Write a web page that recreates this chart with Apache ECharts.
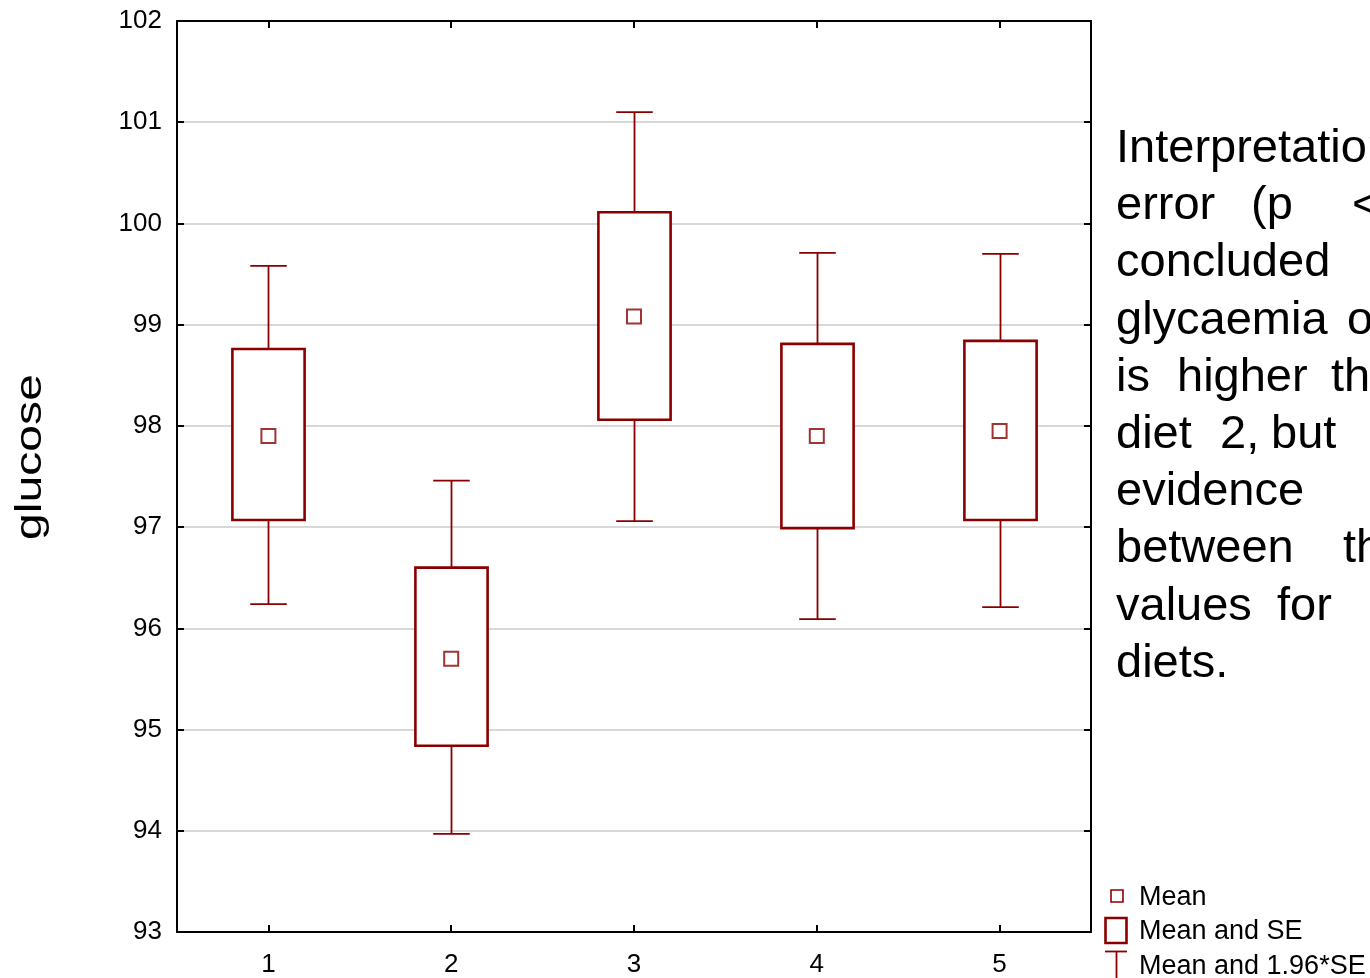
<!DOCTYPE html>
<html>
<head>
<meta charset="utf-8">
<script src="https://cdn.jsdelivr.net/npm/echarts@6/dist/echarts.min.js"></script>
<style>
html,body{margin:0;padding:0;background:#fff;}
#chart{width:1370px;height:978px;}
</style>
</head>
<body>
<div id="chart"></div>
<script>
const categories = ['1', '2', '3', '4', '5'];
const means      = [97.90, 95.70, 99.08, 97.90, 97.95];
const seLow      = [97.07, 94.84, 98.06, 96.99, 97.07];
const seHigh     = [98.76, 96.60, 100.11, 98.81, 98.84];
const ciLow      = [96.24, 93.97, 97.06, 96.09, 96.21];
const ciHigh     = [99.58, 97.46, 101.10, 99.71, 99.70];
const yTicks     = [93, 94, 95, 96, 97, 98, 99, 100, 101, 102];

const RED = '#8a0000';
const FONT = '"Liberation Sans", Arial, sans-serif';

const chart = echarts.init(document.getElementById('chart'), null, {renderer: 'canvas'});

const boxData = categories.map((c, i) => [i, seLow[i], seHigh[i], ciLow[i], ciHigh[i]]);
const meanData = categories.map((c, i) => [i, means[i]]);

function renderBox(params, api) {
  const x = api.value(0);
  const bl = api.coord([x, api.value(1)]);
  const bh = api.coord([x, api.value(2)]);
  const wl = api.coord([x, api.value(3)]);
  const wh = api.coord([x, api.value(4)]);
  const band = api.size([1, 0])[0];
  const bw = band * 0.395;
  const cw = band * 0.2;
  const cx = Math.round(bl[0]) + 0.5;
  const lineStyle = {stroke: RED, lineWidth: 1.8, fill: null};
  return {
    type: 'group',
    children: [
      {type: 'line', shape: {x1: cx, y1: bh[1], x2: cx, y2: wh[1]}, style: lineStyle},
      {type: 'line', shape: {x1: cx, y1: bl[1], x2: cx, y2: wl[1]}, style: lineStyle},
      {type: 'line', shape: {x1: cx - cw / 2, y1: wh[1], x2: cx + cw / 2, y2: wh[1]}, style: lineStyle},
      {type: 'line', shape: {x1: cx - cw / 2, y1: wl[1], x2: cx + cw / 2, y2: wl[1]}, style: lineStyle},
      {type: 'rect', shape: {x: cx - bw / 2, y: bh[1], width: bw, height: bl[1] - bh[1]},
        style: {stroke: RED, lineWidth: 2.6, fill: '#fff'}}
    ]
  };
}

const textLines = [
  [['Interpretation:', 1116]],
  [['error', 1116], ['(p', 1251], ['<', 1352]],
  [['concluded', 1116]],
  [['glycaemia', 1116], ['of', 1347]],
  [['is', 1116], ['higher', 1177], ['than', 1331]],
  [['diet', 1116], ['2,', 1220], ['but', 1271]],
  [['evidence', 1116]],
  [['between', 1116], ['the', 1343]],
  [['values', 1116], ['for', 1277]],
  [['diets.', 1116]]
];
const graphics = [];
textLines.forEach((line, li) => {
  line.forEach(([w, x]) => {
    graphics.push({type: 'text', x: x, y: 149 + li * 57.2,
      style: {text: w, fontSize: 47, fontFamily: FONT, fill: '#000', verticalAlign: 'middle', align: 'left'}});
  });
});
graphics.push({type: 'text', x: 31, y: 457, rotation: Math.PI / 2, scaleX: 1.3,
  style: {text: 'glucose', fontSize: 37, fontFamily: FONT, fill: '#000', align: 'center', verticalAlign: 'middle'}});
// legend
graphics.push({type: 'rect', shape: {x: 1111, y: 890, width: 12, height: 12}, style: {stroke: RED, lineWidth: 1.6, fill: '#fff'}});
graphics.push({type: 'text', x: 1139, y: 898, style: {text: 'Mean', fontSize: 27, fontFamily: FONT, fill: '#000', verticalAlign: 'middle'}});
graphics.push({type: 'rect', shape: {x: 1105.5, y: 918, width: 21, height: 25}, style: {stroke: RED, lineWidth: 2.6, fill: '#fff'}});
graphics.push({type: 'text', x: 1139, y: 932, style: {text: 'Mean and SE', fontSize: 27, fontFamily: FONT, fill: '#000', verticalAlign: 'middle'}});
graphics.push({type: 'line', shape: {x1: 1105, y1: 951.5, x2: 1127, y2: 951.5}, style: {stroke: RED, lineWidth: 1.8}});
graphics.push({type: 'line', shape: {x1: 1116.5, y1: 951, x2: 1116.5, y2: 980}, style: {stroke: RED, lineWidth: 1.8}});
graphics.push({type: 'text', x: 1139, y: 967, style: {text: 'Mean and 1.96*SE', fontSize: 27, fontFamily: FONT, fill: '#000', verticalAlign: 'middle'}});

const axisLine = {show: true, lineStyle: {color: '#000', width: 2}};
const tick = {show: true, inside: true, length: 7, lineStyle: {color: '#000', width: 2}};

chart.setOption({
  animation: false,
  backgroundColor: '#fff',
  grid: {left: 177, right: 279, top: 21, bottom: 45, containLabel: false},
  xAxis: [
    {type: 'category', data: categories, boundaryGap: true, position: 'bottom',
      axisLine: axisLine, axisTick: Object.assign({alignWithLabel: true}, tick),
      axisLabel: {fontSize: 26, fontFamily: FONT, color: '#000', margin: 20},
      splitLine: {show: false}},
    {type: 'category', data: categories, boundaryGap: true, position: 'top',
      axisLine: axisLine, axisTick: Object.assign({alignWithLabel: true}, tick),
      axisLabel: {show: false}, splitLine: {show: false}}
  ],
  yAxis: [
    {type: 'value', min: yTicks[0], max: yTicks[yTicks.length - 1], interval: 1, position: 'left',
      axisLine: axisLine, axisTick: tick,
      axisLabel: {fontSize: 26, fontFamily: FONT, color: '#000', margin: 15},
      splitLine: {show: true, lineStyle: {color: '#d8d8d8', width: 2}}},
    {type: 'value', min: yTicks[0], max: yTicks[yTicks.length - 1], interval: 1, position: 'right',
      axisLine: axisLine, axisTick: tick, axisLabel: {show: false}, splitLine: {show: false}}
  ],
  series: [
    {type: 'custom', xAxisIndex: 0, yAxisIndex: 0, data: boxData, renderItem: renderBox, z: 3},
    {type: 'scatter', xAxisIndex: 0, yAxisIndex: 0, data: meanData, symbol: 'rect', symbolSize: 14,
      itemStyle: {color: '#fff', borderColor: RED, borderWidth: 2}, z: 4}
  ],
  graphic: graphics
});
</script>
</body>
</html>
